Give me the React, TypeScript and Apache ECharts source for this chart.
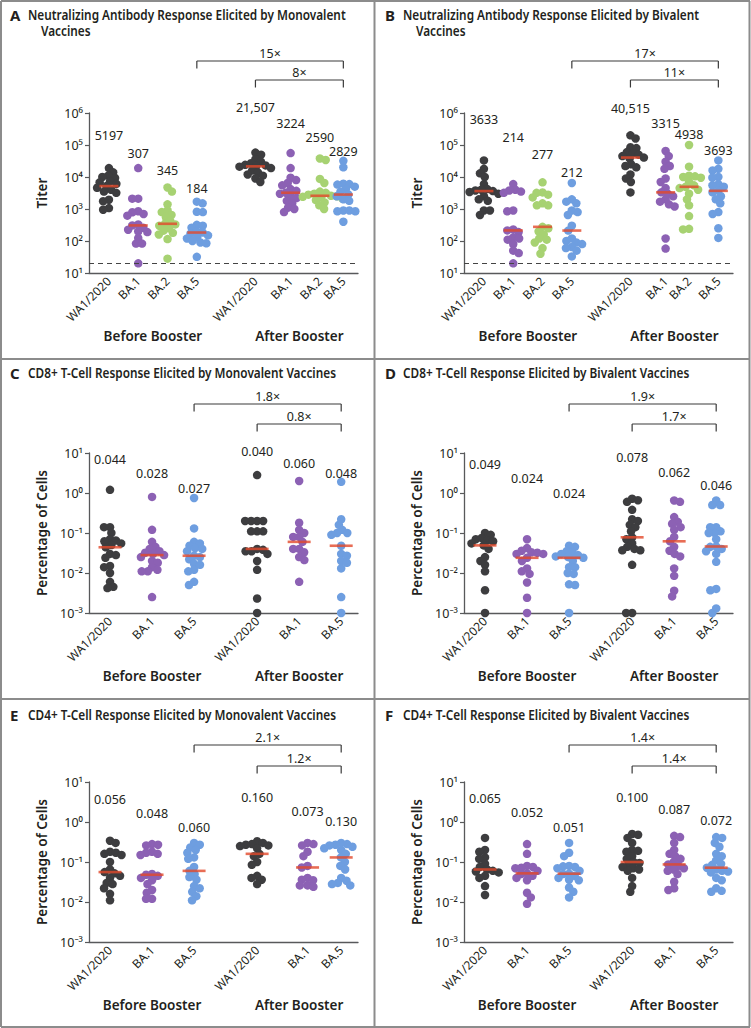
import React, { useEffect, useRef } from "react";
import * as echarts from "echarts";

// ---------------- data ----------------
const nabCategories = ["WA1/2020", "BA.1", "BA.2", "BA.5", "WA1/2020", "BA.1", "BA.2", "BA.5"];
const tcellCategories = ["WA1/2020", "BA.1", "BA.5", "WA1/2020", "BA.1", "BA.5"];

const nabMonoValues: number[][] = [
  [19000, 14000, 11000, 10000, 9300, 7300, 6800, 6100, 5197, 4600, 4000, 3500, 3200, 1950, 1750, 1070, 950],
  [19000, 2100, 2100, 850, 790, 700, 620, 330, 307, 260, 225, 200, 190, 124, 83, 83, 20],
  [4700, 3500, 1400, 900, 800, 650, 560, 420, 345, 330, 300, 250, 210, 180, 160, 115, 28],
  [1700, 1500, 820, 800, 320, 300, 260, 200, 184, 170, 150, 130, 120, 100, 90, 85, 32],
  [58000, 50000, 36000, 30000, 27000, 24000, 23000, 22000, 21000, 19000, 16000, 14000, 12000, 11000, 9000, 7000],
  [56000, 19000, 9500, 8000, 6500, 5500, 4200, 3700, 3224, 3000, 2500, 2200, 1800, 1500, 1100, 1000, 800],
  [38000, 34000, 8700, 6500, 3500, 3200, 3000, 2800, 2590, 2500, 2400, 2300, 2100, 1900, 1600, 1300, 1000],
  [32000, 20000, 6200, 6000, 5800, 5000, 4200, 3500, 2829, 2500, 2000, 1800, 900, 900, 850, 850, 400],
];
const nabMonoMedians = [5197, 307, 345, 184, 21507, 3224, 2590, 2829];
const nabMonoFolds = [15, 8];

const nabBiValues: number[][] = [
  [33000, 18000, 13000, 10000, 6000, 4200, 4000, 3800, 3633, 3400, 3000, 2500, 2000, 1800, 900, 900, 650],
  [6000, 4000, 3800, 3500, 3200, 900, 850, 230, 214, 190, 130, 120, 110, 80, 50, 42, 20],
  [6800, 3300, 3200, 2800, 2300, 1500, 1300, 1300, 277, 250, 200, 160, 120, 110, 90, 60, 40],
  [6500, 2000, 1700, 1500, 900, 800, 650, 300, 212, 120, 100, 90, 80, 65, 60, 50, 33],
  [200000, 160000, 85000, 80000, 60000, 55000, 50000, 45000, 40515, 38000, 25000, 22000, 20000, 12000, 9000, 7000, 3300],
  [65000, 45000, 30000, 22000, 18000, 9000, 7000, 4500, 3315, 3000, 2500, 2000, 1700, 1400, 1200, 120, 58],
  [100000, 21000, 11000, 10500, 10000, 9500, 7000, 5500, 4938, 4500, 4000, 3000, 2000, 1300, 600, 240, 230],
  [33000, 18000, 16000, 10000, 9500, 6000, 5500, 5000, 3693, 3300, 2500, 2000, 1500, 800, 700, 250, 125],
];
const nabBiMedians = [3633, 214, 277, 212, 40515, 3315, 4938, 3693];
const nabBiFolds = [17, 11];

const cd8MonoValues: number[][] = [
  [1.2, 0.14, 0.14, 0.1, 0.07, 0.065, 0.062, 0.055, 0.05, 0.044, 0.03, 0.028, 0.024, 0.015, 0.014, 0.01, 0.006, 0.0045, 0.0042],
  [0.8, 0.12, 0.06, 0.045, 0.04, 0.035, 0.032, 0.03, 0.028, 0.025, 0.02, 0.018, 0.014, 0.012, 0.011, 0.011, 0.0025],
  [0.75, 0.13, 0.06, 0.055, 0.048, 0.042, 0.04, 0.035, 0.027, 0.025, 0.022, 0.017, 0.016, 0.012, 0.011, 0.006, 0.005],
  [2.8, 0.2, 0.2, 0.2, 0.2, 0.11, 0.11, 0.11, 0.04, 0.038, 0.035, 0.035, 0.03, 0.02, 0.012, 0.0023, 0.001],
  [2.0, 0.18, 0.12, 0.1, 0.08, 0.08, 0.06, 0.04, 0.04, 0.033, 0.025, 0.021, 0.006],
  [1.9, 0.22, 0.16, 0.12, 0.1, 0.1, 0.09, 0.048, 0.03, 0.027, 0.02, 0.018, 0.013, 0.0025, 0.001],
];
const cd8MonoMedians = [0.044, 0.028, 0.027, 0.04, 0.06, 0.048];
const cd8MonoFolds = [1.8, 0.8];

const cd8BiValues: number[][] = [
  [0.1, 0.09, 0.075, 0.07, 0.065, 0.062, 0.055, 0.049, 0.04, 0.025, 0.02, 0.016, 0.011, 0.0037, 0.001],
  [0.07, 0.042, 0.036, 0.033, 0.032, 0.03, 0.03, 0.024, 0.02, 0.013, 0.011, 0.0095, 0.0058, 0.0024, 0.001],
  [0.048, 0.045, 0.035, 0.032, 0.03, 0.028, 0.026, 0.025, 0.024, 0.02, 0.014, 0.014, 0.01, 0.0095, 0.0052, 0.005, 0.001],
  [0.72, 0.66, 0.6, 0.38, 0.22, 0.2, 0.16, 0.14, 0.11, 0.078, 0.07, 0.055, 0.045, 0.04, 0.037, 0.037, 0.016, 0.001, 0.001],
  [0.65, 0.6, 0.25, 0.19, 0.17, 0.14, 0.12, 0.08, 0.062, 0.045, 0.036, 0.03, 0.026, 0.013, 0.0085, 0.0036, 0.0026],
  [0.65, 0.5, 0.5, 0.14, 0.14, 0.11, 0.1, 0.1, 0.07, 0.046, 0.045, 0.04, 0.035, 0.03, 0.019, 0.004, 0.0037, 0.0013, 0.001],
];
const cd8BiMedians = [0.049, 0.024, 0.024, 0.078, 0.062, 0.046];
const cd8BiFolds = [1.9, 1.7];

const cd4MonoValues: number[][] = [
  [0.34, 0.3, 0.18, 0.17, 0.16, 0.15, 0.1, 0.065, 0.056, 0.052, 0.045, 0.04, 0.03, 0.028, 0.022, 0.016, 0.011],
  [0.28, 0.27, 0.26, 0.18, 0.17, 0.16, 0.15, 0.05, 0.048, 0.045, 0.04, 0.035, 0.028, 0.02, 0.017, 0.012, 0.012],
  [0.3, 0.27, 0.23, 0.2, 0.17, 0.13, 0.12, 0.075, 0.06, 0.05, 0.042, 0.036, 0.025, 0.022, 0.018, 0.014, 0.011],
  [0.33, 0.3, 0.28, 0.27, 0.26, 0.25, 0.22, 0.16, 0.14, 0.1, 0.085, 0.045, 0.04, 0.036, 0.028],
  [0.3, 0.28, 0.26, 0.18, 0.14, 0.08, 0.073, 0.04, 0.036, 0.035, 0.026, 0.026, 0.024],
  [0.3, 0.28, 0.27, 0.26, 0.24, 0.22, 0.2, 0.16, 0.13, 0.1, 0.08, 0.065, 0.04, 0.034, 0.03, 0.028, 0.026],
];
const cd4MonoMedians = [0.056, 0.048, 0.06, 0.16, 0.073, 0.13];
const cd4MonoFolds = [2.1, 1.2];

const cd4BiValues: number[][] = [
  [0.4, 0.2, 0.18, 0.13, 0.12, 0.09, 0.075, 0.065, 0.06, 0.058, 0.055, 0.045, 0.04, 0.025, 0.015],
  [0.28, 0.16, 0.08, 0.075, 0.072, 0.07, 0.06, 0.052, 0.05, 0.045, 0.04, 0.035, 0.017, 0.013, 0.009],
  [0.3, 0.17, 0.14, 0.08, 0.078, 0.075, 0.07, 0.06, 0.051, 0.05, 0.045, 0.04, 0.036, 0.035, 0.023, 0.018, 0.013],
  [0.5, 0.48, 0.4, 0.3, 0.2, 0.19, 0.18, 0.14, 0.12, 0.1, 0.095, 0.085, 0.075, 0.07, 0.065, 0.06, 0.04, 0.025, 0.018],
  [0.45, 0.42, 0.3, 0.2, 0.16, 0.14, 0.12, 0.1, 0.087, 0.08, 0.07, 0.065, 0.06, 0.05, 0.032, 0.022, 0.02],
  [0.42, 0.4, 0.3, 0.24, 0.16, 0.14, 0.11, 0.09, 0.085, 0.072, 0.065, 0.06, 0.058, 0.055, 0.04, 0.035, 0.022, 0.019, 0.018],
];
const cd4BiMedians = [0.065, 0.052, 0.051, 0.1, 0.087, 0.072];
const cd4BiFolds = [1.4, 1.4];

const nabRange = [10, 1e6];
const tcellRange = [0.001, 10];
const detectionLimit = 20;
const groupNames = ["Before Booster", "After Booster"];

// ---------------- styles / layout ----------------
const FONT = '"Noto Sans", "Open Sans", sans-serif';
const TXT = "#231f20";
const AXIS = "#58595b";
const RED = "#e2492b";
const C_BLACK = "#3d3d3f";
const C_PURPLE = "#8c61b4";
const C_GREEN = "#a7d272";
const C_BLUE = "#6e9ee0";
const nabColors = [C_BLACK, C_PURPLE, C_GREEN, C_BLUE, C_BLACK, C_PURPLE, C_GREEN, C_BLUE];
const tcellColors = [C_BLACK, C_PURPLE, C_BLUE, C_BLACK, C_PURPLE, C_BLUE];

const PLOT_W = 269;
const PLOT_H = 160;
const TITLE_SCALE = 0.875;

type Panel = {
  letter: string;
  title: string[];
  ox: number;
  left: number;
  titleY: number;
  bracketY: number[];
  top: number;
  xmin: number;
  xmax: number;
  positions: number[];
  labelY: number[];
  groupY: number;
  cats: string[];
  colors: string[];
  values: number[][];
  medians: number[];
  folds: number[];
  range: number[];
  yName: string;
  nab: boolean;
  medW: number;
};

const panels: Panel[] = [
  {
    letter: "A", title: ["Neutralizing Antibody Response Elicited by Monovalent", "Vaccines"],
    ox: 0, left: 89, titleY: 15, bracketY: [61, 80], top: 113, xmin: -0.68, xmax: 8.5,
    positions: [0, 1, 2, 3, 5, 6.2, 7.2, 8], labelY: [135, 153, 170, 188, 107, 123, 137, 151], groupY: 336,
    cats: nabCategories, colors: nabColors, values: nabMonoValues, medians: nabMonoMedians, folds: nabMonoFolds,
    range: nabRange, yName: "Titer", nab: true, medW: 19,
  },
  {
    letter: "B", title: ["Neutralizing Antibody Response Elicited by Bivalent", "Vaccines"],
    ox: 375, left: 464, titleY: 15, bracketY: [61, 80], top: 113, xmin: -0.68, xmax: 8.5,
    positions: [0, 1, 2, 3, 5, 6.2, 7, 8], labelY: [119, 137, 154, 172, 108, 123, 134, 150], groupY: 336,
    cats: nabCategories, colors: nabColors, values: nabBiValues, medians: nabBiMedians, folds: nabBiFolds,
    range: nabRange, yName: "Titer", nab: true, medW: 19,
  },
  {
    letter: "C", title: ["CD8+ T-Cell Response Elicited by Monovalent Vaccines"],
    ox: 0, left: 89, titleY: 373, bracketY: [404, 424], top: 453, xmin: -0.5, xmax: 5.9,
    positions: [0, 1, 2, 3.5, 4.5, 5.5], labelY: [459, 473, 488, 451, 463, 473], groupY: 676,
    cats: tcellCategories, colors: tcellColors, values: cd8MonoValues, medians: cd8MonoMedians, folds: cd8MonoFolds,
    range: tcellRange, yName: "Percentage of Cells", nab: false, medW: 23,
  },
  {
    letter: "D", title: ["CD8+ T-Cell Response Elicited by Bivalent Vaccines"],
    ox: 375, left: 464, titleY: 373, bracketY: [404, 424], top: 453, xmin: -0.5, xmax: 5.9,
    positions: [0, 1, 2, 3.5, 4.5, 5.5], labelY: [464, 478, 493, 457, 472, 485], groupY: 676,
    cats: tcellCategories, colors: tcellColors, values: cd8BiValues, medians: cd8BiMedians, folds: cd8BiFolds,
    range: tcellRange, yName: "Percentage of Cells", nab: false, medW: 23,
  },
  {
    letter: "E", title: ["CD4+ T-Cell Response Elicited by Monovalent Vaccines"],
    ox: 0, left: 89, titleY: 715, bracketY: [745, 766], top: 782, xmin: -0.5, xmax: 5.9,
    positions: [0, 1, 2, 3.5, 4.7, 5.5], labelY: [799, 813, 827, 797, 811, 821], groupY: 1005,
    cats: tcellCategories, colors: tcellColors, values: cd4MonoValues, medians: cd4MonoMedians, folds: cd4MonoFolds,
    range: tcellRange, yName: "Percentage of Cells", nab: false, medW: 23,
  },
  {
    letter: "F", title: ["CD4+ T-Cell Response Elicited by Bivalent Vaccines"],
    ox: 375, left: 464, titleY: 715, bracketY: [745, 766], top: 782, xmin: -0.5, xmax: 5.9,
    positions: [0, 1, 2, 3.5, 4.5, 5.5], labelY: [798, 812, 827, 797, 809, 820], groupY: 1005,
    cats: tcellCategories, colors: tcellColors, values: cd4BiValues, medians: cd4BiMedians, folds: cd4BiFolds,
    range: tcellRange, yName: "Percentage of Cells", nab: false, medW: 23,
  },
];

const SUP: Record<string, string> = { "0": "⁰", "1": "¹", "2": "²", "3": "³", "4": "⁴", "5": "⁵", "6": "⁶", "-": "⁻" };
function powLabel(v: number) {
  const e = Math.round(Math.log10(v));
  return "10" + String(e).split("").map((c) => SUP[c] || c).join("");
}

function fmtMedian(v: number, nab: boolean) {
  if (!nab) return v.toFixed(3);
  return v >= 10000 ? v.toLocaleString("en-US") : String(v);
}

// compact beeswarm: offsets in px, computed from the values' pixel heights
function swarmOffsets(values: number[], pxPerDecade: number, diam: number): number[] {
  const ys = values.map((v) => -Math.log10(v) * pxPerDecade);
  const idx = values.map((_, i) => i).sort((a, b) => ys[a] - ys[b]);
  const placed: { x: number; y: number }[] = [];
  const out = new Array(values.length).fill(0);
  let flip = 1;
  for (const i of idx) {
    const y = ys[i];
    const iv: [number, number][] = [];
    for (const p of placed) {
      const dy = Math.abs(p.y - y);
      if (dy < diam) {
        const w = Math.sqrt(diam * diam - dy * dy);
        iv.push([p.x - w, p.x + w]);
      }
    }
    const cands = [0];
    for (const [a, b] of iv) cands.push(a, b);
    const f = flip;
    cands.sort((a, b) => Math.abs(a) - Math.abs(b) || (a - b) * f);
    let x = 0;
    for (const c of cands) {
      if (iv.every(([a, b]) => c <= a + 1e-6 || c >= b - 1e-6)) {
        x = c;
        break;
      }
    }
    flip = -flip;
    placed.push({ x, y });
    out[i] = x;
  }
  return out;
}

function buildOption() {
  const grids: any[] = [];
  const xAxes: any[] = [];
  const yAxes: any[] = [];
  const series: any[] = [];
  const graphic: any[] = [];

  const text = (t: string, x: number, y: number, o: any = {}) => ({
    type: "text",
    x,
    y,
    silent: true,
    scaleX: o.scaleX ?? 1,
    style: {
      text: t,
      fontFamily: FONT,
      fontSize: o.size ?? 12.5,
      fontWeight: o.weight ?? "normal",
      fill: TXT,
      align: o.align ?? "center",
      textAlign: o.align ?? "center",
      verticalAlign: "middle",
      textVerticalAlign: "middle",
    },
  });
  const line = (x1: number, y1: number, x2: number, y2: number, color = "#3a3a3a", w = 1.2) => ({
    type: "line",
    silent: true,
    shape: { x1, y1, x2, y2 },
    style: { stroke: color, lineWidth: w },
  });

  // panel frames
  const FR = "#8c8c8c";
  graphic.push(line(1, 1, 750, 1, FR, 2));
  graphic.push(line(1, 1027, 750, 1027, FR, 2));
  graphic.push(line(1, 1, 1, 1027, FR, 2));
  graphic.push(line(749.5, 1, 749.5, 1027, FR, 2));
  graphic.push(line(374.5, 1, 374.5, 1027, FR, 2));
  graphic.push(line(1, 359, 750, 359, FR, 2));
  graphic.push(line(1, 699, 750, 699, FR, 2));

  panels.forEach((p, pi) => {
    const unit = PLOT_W / (p.xmax - p.xmin);
    const pxPerDecade = PLOT_H / Math.log10(p.range[1] / p.range[0]);
    const px = (v: number) => p.left + (v - p.xmin) * unit;

    grids.push({ left: p.left, top: p.top, width: PLOT_W, height: PLOT_H });
    xAxes.push({
      type: "value",
      gridIndex: pi,
      min: p.xmin,
      max: p.xmax,
      axisLine: { show: true, onZero: false, lineStyle: { color: AXIS, width: 1.3 } },
      axisTick: { show: false },
      splitLine: { show: false },
      axisLabel: {
        customValues: p.positions,
        formatter: (v: number) => {
          let best = 0;
          p.positions.forEach((q, k) => {
            if (Math.abs(q - v) < Math.abs(p.positions[best] - v)) best = k;
          });
          return p.cats[best];
        },
        rotate: 45,
        fontSize: 12,
        fontFamily: FONT,
        color: TXT,
        margin: 6,
      },
    });
    yAxes.push({
      type: "log",
      logBase: 10,
      gridIndex: pi,
      min: p.range[0],
      max: p.range[1],
      axisLine: { show: true, onZero: false, lineStyle: { color: AXIS, width: 1.3 } },
      axisTick: { show: true, length: 4, lineStyle: { color: AXIS, width: 1.2 } },
      minorTick: { show: false },
      splitLine: { show: false },
      axisLabel: { formatter: powLabel, fontSize: 12.5, fontFamily: FONT, color: TXT, margin: 6 },
      name: p.yName,
      nameLocation: "middle",
      nameGap: 40,
      nameTextStyle: { fontSize: 13.5, fontWeight: 600, fontFamily: FONT, color: TXT },
    });

    p.values.forEach((vals, gi) => {
      const offs = swarmOffsets(vals, pxPerDecade, 6);
      const s: any = {
        type: "scatter",
        xAxisIndex: pi,
        yAxisIndex: pi,
        silent: true,
        symbolSize: 8.5,
        itemStyle: { color: p.colors[gi], opacity: 1 },
        data: vals.map((v, k) => [p.positions[gi] + offs[k] / unit, v]),
        z: 2,
      };
      if (gi === 0 && p.nab) {
        s.markLine = {
          silent: true,
          symbol: ["none", "none"],
          label: { show: false },
          lineStyle: { type: [5, 4], color: "#444", width: 1.1 },
          data: [{ yAxis: detectionLimit }],
        };
      }
      series.push(s);
      series.push({
        type: "scatter",
        xAxisIndex: pi,
        yAxisIndex: pi,
        silent: true,
        symbol: "rect",
        symbolSize: [p.medW, 2.6],
        itemStyle: { color: RED },
        data: [[p.positions[gi], p.medians[gi]]],
        z: 4,
      });
      graphic.push(text(fmtMedian(p.medians[gi], p.nab), px(p.positions[gi]), p.labelY[gi], { size: 12.5 }));
    });

    // title
    graphic.push(text(p.letter, p.ox + 10, p.titleY, { size: 15, weight: 700, align: "left" }));
    p.title.forEach((t, li) => {
      graphic.push(
        text(t, p.ox + (li === 0 ? 28 : 41), p.titleY + li * 16, {
          size: 13.5,
          weight: 600,
          align: "left",
          scaleX: TITLE_SCALE,
        })
      );
    });

    // brackets
    const n = p.positions.length;
    const half = n / 2;
    const xEnd = px(p.positions[n - 1]);
    const starts = [px(p.positions[half - 1]), px(p.positions[half])];
    starts.forEach((xs, bi) => {
      const y = p.bracketY[bi];
      graphic.push(line(xs, y, xEnd, y));
      graphic.push(line(xs, y, xs, y + 7.5));
      graphic.push(line(xEnd, y, xEnd, y + 7.5));
      graphic.push(text(`${p.folds[bi]}×`, (xs + xEnd) / 2, y - 8, { size: 12.5 }));
    });

    // group labels
    const gA = (px(p.positions[0]) + px(p.positions[half - 1])) / 2;
    const gB = (px(p.positions[half]) + px(p.positions[n - 1])) / 2;
    graphic.push(text(groupNames[0], gA, p.groupY, { size: 13.5, weight: 600 }));
    graphic.push(text(groupNames[1], gB, p.groupY, { size: 13.5, weight: 600 }));
  });

  return {
    animation: false,
    backgroundColor: "#ffffff",
    textStyle: { fontFamily: FONT },
    grid: grids,
    xAxis: xAxes,
    yAxis: yAxes,
    series,
    graphic: { elements: graphic },
  };
}

export default function App() {
  const ref = useRef<HTMLDivElement>(null);
  useEffect(() => {
    if (!ref.current) return;
    const chart = echarts.init(ref.current, undefined, { renderer: "svg" });
    chart.setOption(buildOption() as any);
    return () => chart.dispose();
  }, []);
  return (
    <div
      ref={ref}
      style={{ position: "absolute", left: 0, top: 0, width: 751, height: 1028, background: "#fff" }}
    />
  );
}
